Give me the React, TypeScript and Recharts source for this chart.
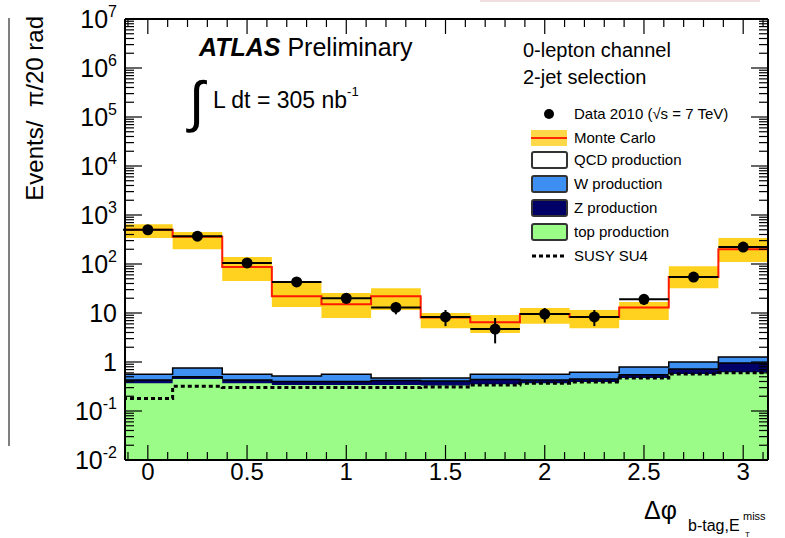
import React from 'react'
import { ComposedChart, Area, Line, Scatter, ErrorBar, XAxis, YAxis } from 'recharts'

// bin centres in Δφ, each bin 0.25 wide
const binCenters = [0, 0.25, 0.5, 0.75, 1.0, 1.25, 1.5, 1.75, 2.0, 2.25, 2.5, 2.75, 3.0]
const binHalfWidth = 0.125

const dataCounts = [500, 370, 105, 43, 20, 13, 8.3, 4.7, 9.5, 8.3, 19, 54, 222]
const dataErrLow = [22, 19, 10, 6.5, 4.5, 3.6, 2.9, 2.3, 3.1, 2.9, 4.4, 7.3, 15]
const dataErrHigh = [22, 19, 10, 6.5, 4.5, 3.6, 3.2, 3.2, 3.1, 3.2, 4.4, 7.3, 15]

const mcTotal = [500, 360, 87, 22, 15, 22, 8.1, 6.5, 9.5, 8.3, 13, 54, 200]
const mcLow = [340, 200, 45, 13.3, 7.9, 11.5, 4.9, 3.9, 6, 4.9, 7.2, 32, 110]
const mcHigh = [650, 450, 139, 43, 25.6, 32, 10, 9.1, 12.6, 11.5, 16.7, 90, 340]

const topProd = [0.37, 0.45, 0.37, 0.34, 0.34, 0.34, 0.33, 0.35, 0.37, 0.39, 0.47, 0.57, 0.62]
const zProd = [0.06, 0.05, 0.06, 0.06, 0.06, 0.08, 0.08, 0.09, 0.06, 0.06, 0.08, 0.15, 0.33]
const wProd = [0.13, 0.25, 0.13, 0.12, 0.16, 0.05, 0.06, 0.12, 0.13, 0.17, 0.24, 0.28, 0.31]
const susySU4 = [0.18, 0.32, 0.3, 0.3, 0.3, 0.3, 0.31, 0.34, 0.37, 0.39, 0.47, 0.57, 0.6]

const xMajorTicks = [0, 0.5, 1, 1.5, 2, 2.5, 3]
const yMajorTicks = [0.01, 0.1, 1, 10, 100, 1000, 1e4, 1e5, 1e6, 1e7]

const FONT = '"Liberation Sans", Arial, Helvetica, sans-serif'

const xTicks: number[] = []
for (let i = -1; i <= 31; i++) xTicks.push(Math.round(i) / 10)

const yTicks: number[] = []
for (let e = -2; e <= 6; e++) {
  for (let m = 1; m <= 9; m++) yTicks.push(m * Math.pow(10, e))
}
yTicks.push(1e7)

// step table at bin edges
const n = binCenters.length
const edges = [...binCenters.map((c) => c - binHalfWidth), binCenters[n - 1] + binHalfWidth]
const table = edges.map((x, i) => {
  const k = Math.min(i, n - 1)
  return {
    x,
    mc: mcTotal[k],
    band: [mcLow[k], mcHigh[k]],
    wTop: topProd[k] + zProd[k] + wProd[k],
    zTop: topProd[k] + zProd[k],
    top: topProd[k],
    susy: susySU4[k],
  }
})

const points = binCenters.map((x, i) => ({
  x,
  y: dataCounts[i],
  ex: binHalfWidth,
  ey: [dataErrLow[i], dataErrHigh[i]],
}))

const isMajorX = (v: number) => xMajorTicks.some((t) => Math.abs(t - v) < 1e-6)
const isMajorY = (v: number) => yMajorTicks.some((t) => Math.abs(t - v) / t < 1e-6)

const BottomTick = (props: any) => {
  const { x, y, payload } = props
  const major = isMajorX(payload.value)
  return (
    <g>
      <line x1={x} y1={y} x2={x} y2={y - (major ? 15 : 8)} stroke="#000" strokeWidth={1.2} />
      {major && (
        <text x={x} y={y + 20} textAnchor="middle" fontSize={24} fontFamily={FONT} fill="#000">
          {payload.value}
        </text>
      )}
    </g>
  )
}

const TopTick = (props: any) => {
  const { x, y, payload } = props
  const major = isMajorX(payload.value)
  return <line x1={x} y1={y} x2={x} y2={y + (major ? 15 : 8)} stroke="#000" strokeWidth={1.2} />
}

const LeftTick = (props: any) => {
  const { x, y, payload } = props
  const v = payload.value
  const major = isMajorY(v)
  const exp = Math.round(Math.log10(v))
  return (
    <g>
      <line x1={x} y1={y} x2={x + (major ? 17 : 9)} y2={y} stroke="#000" strokeWidth={1.2} />
      {major && (
        <text x={x - 8} y={y + 9} textAnchor="end" fontSize={25} fontFamily={FONT} fill="#000">
          {exp === 0 ? '1' : exp === 1 ? '10' : (
            <>
              <tspan>10</tspan>
              <tspan dy={-11} fontSize={16}>{exp}</tspan>
            </>
          )}
        </text>
      )}
    </g>
  )
}

const RightTick = (props: any) => {
  const { x, y, payload } = props
  const major = isMajorY(payload.value)
  return <line x1={x} y1={y} x2={x - (major ? 17 : 9)} y2={y} stroke="#000" strokeWidth={1.2} />
}

const legendRows = [
  { label: 'Data 2010 (√s = 7 TeV)', kind: 'dot', y: 114 },
  { label: 'Monte Carlo', kind: 'mc', y: 138 },
  { label: 'QCD production', kind: 'box', color: '#ffffff', y: 160 },
  { label: 'W production', kind: 'box', color: '#3d8ff2', y: 184 },
  { label: 'Z production', kind: 'box', color: '#000066', y: 208 },
  { label: 'top production', kind: 'box', color: '#9cfc88', y: 232 },
  { label: 'SUSY SU4', kind: 'dash', y: 256 },
]

function Overlay() {
  return (
    <svg width={785} height={538} style={{ position: 'absolute', left: 0, top: 0, pointerEvents: 'none' }}>
      <line x1={480} y1={1} x2={760} y2={1} stroke="#f2dde0" strokeWidth={2} />
      <line x1={9} y1={18} x2={9} y2={446} stroke="#555" strokeWidth={1.5} />
      <text
        x={43}
        y={16}
        transform="rotate(-90 43 16)"
        textAnchor="end"
        fontSize={24}
        fontFamily={FONT}
        fill="#000"
        xmlSpace="preserve"
      >
        {'Events/  π/20 rad'}
      </text>
      <text x={199} y={56} fontSize={25} fontFamily={FONT} fill="#000">
        <tspan fontWeight="bold" fontStyle="italic">ATLAS</tspan>
        <tspan> Preliminary</tspan>
      </text>
      <text x={189} y={121} fontSize={56} fontFamily={FONT} fill="#000">∫</text>
      <text x={213} y={108} fontSize={23} fontFamily={FONT} fill="#000">
        <tspan>L dt = 305 nb</tspan>
        <tspan dy={-12} fontSize={13}>-1</tspan>
      </text>
      <text x={523} y={57} fontSize={20} fontFamily={FONT} fill="#000">0-lepton channel</text>
      <text x={523} y={84} fontSize={20} fontFamily={FONT} fill="#000">2-jet selection</text>
      {legendRows.map((r) => (
        <g key={r.label}>
          {r.kind === 'dot' && <circle cx={549} cy={r.y} r={5} fill="#000" />}
          {r.kind === 'mc' && (
            <g>
              <rect x={531} y={r.y - 8} width={36} height={16} fill="#ffd84a" />
              <line x1={531} y1={r.y} x2={567} y2={r.y} stroke="#ff2a00" strokeWidth={2} />
            </g>
          )}
          {r.kind === 'box' && (
            <rect x={532} y={r.y - 8} width={35} height={16} rx={2} fill={r.color} stroke="#333" strokeWidth={2} />
          )}
          {r.kind === 'dash' && (
            <line x1={532} y1={r.y} x2={567} y2={r.y} stroke="#000" strokeWidth={3} strokeDasharray="4 3" />
          )}
          <text x={574} y={r.y + 5} fontSize={15} fontFamily={FONT} fill="#000">{r.label}</text>
        </g>
      ))}
      <text x={644} y={519} fontSize={25} fontFamily={FONT} fill="#000">Δφ</text>
      <text x={688} y={531} fontSize={16} fontFamily={FONT} fill="#000">b-tag,E</text>
      <text x={743} y={520} fontSize={11} fontFamily={FONT} fill="#000">miss</text>
      <text x={745} y={537} fontSize={8} fontFamily={FONT} fill="#000">T</text>
    </svg>
  )
}

export default function App() {
  return (
    <div style={{ position: 'absolute', left: 0, top: 0, width: 785, height: 538, background: '#fff' }}>
      <ComposedChart width={785} height={538} data={table} margin={{ top: 18, right: 16, bottom: 0, left: 0 }}>
        <XAxis
          dataKey="x"
          type="number"
          domain={[-0.115, 3.125]}
          allowDataOverflow
          ticks={xTicks}
          interval={0}
          tick={BottomTick}
          tickLine={false}
          tickSize={0}
          tickMargin={0}
          height={78}
          axisLine={{ stroke: '#000', strokeWidth: 2 }}
        />
        <XAxis
          xAxisId="top"
          orientation="top"
          dataKey="x"
          type="number"
          domain={[-0.115, 3.125]}
          allowDataOverflow
          ticks={xTicks}
          interval={0}
          tick={TopTick}
          tickLine={false}
          tickSize={0}
          tickMargin={0}
          height={1}
          axisLine={{ stroke: '#000', strokeWidth: 2 }}
        />
        <YAxis
          type="number"
          scale="log"
          domain={[0.01, 1e7]}
          allowDataOverflow
          ticks={yTicks}
          interval={0}
          tick={LeftTick}
          tickLine={false}
          tickSize={0}
          tickMargin={0}
          width={125}
          axisLine={{ stroke: '#000', strokeWidth: 2 }}
        />
        <YAxis
          yAxisId="right"
          orientation="right"
          type="number"
          scale="log"
          domain={[0.01, 1e7]}
          allowDataOverflow
          ticks={yTicks}
          interval={0}
          tick={RightTick}
          tickLine={false}
          tickSize={0}
          tickMargin={0}
          width={1}
          axisLine={{ stroke: '#000', strokeWidth: 2 }}
        />
        <Area type="stepAfter" dataKey="wTop" baseValue={0.01} fill="#3d8ff2" fillOpacity={1} stroke="#000" strokeWidth={1.5} isAnimationActive={false} />
        <Area type="stepAfter" dataKey="zTop" baseValue={0.01} fill="#000066" fillOpacity={1} stroke="#000" strokeWidth={1.5} isAnimationActive={false} />
        <Area type="stepAfter" dataKey="top" baseValue={0.01} fill="#9cfc88" fillOpacity={1} stroke="none" isAnimationActive={false} />
        <Line type="stepAfter" dataKey="susy" stroke="#000" strokeWidth={3} strokeDasharray="4 3" dot={false} isAnimationActive={false} />
        <Area type="stepAfter" dataKey="band" fill="#ffd21f" fillOpacity={1} stroke="none" isAnimationActive={false} />
        <Line type="stepAfter" dataKey="mc" stroke="#ff1a00" strokeWidth={2} dot={false} isAnimationActive={false} />
        <Line xAxisId="top" yAxisId="right" dataKey="mc" stroke="none" dot={false} isAnimationActive={false} />
        <Scatter
          data={points}
          dataKey="y"
          isAnimationActive={false}
          shape={(p: any) => <circle cx={p.cx} cy={p.cy} r={5.5} fill="#000" />}
        >
          <ErrorBar dataKey="ex" direction="x" width={0} stroke="#000" strokeWidth={2} />
          <ErrorBar dataKey="ey" direction="y" width={0} stroke="#000" strokeWidth={2} />
        </Scatter>
      </ComposedChart>
      <Overlay />
    </div>
  )
}
